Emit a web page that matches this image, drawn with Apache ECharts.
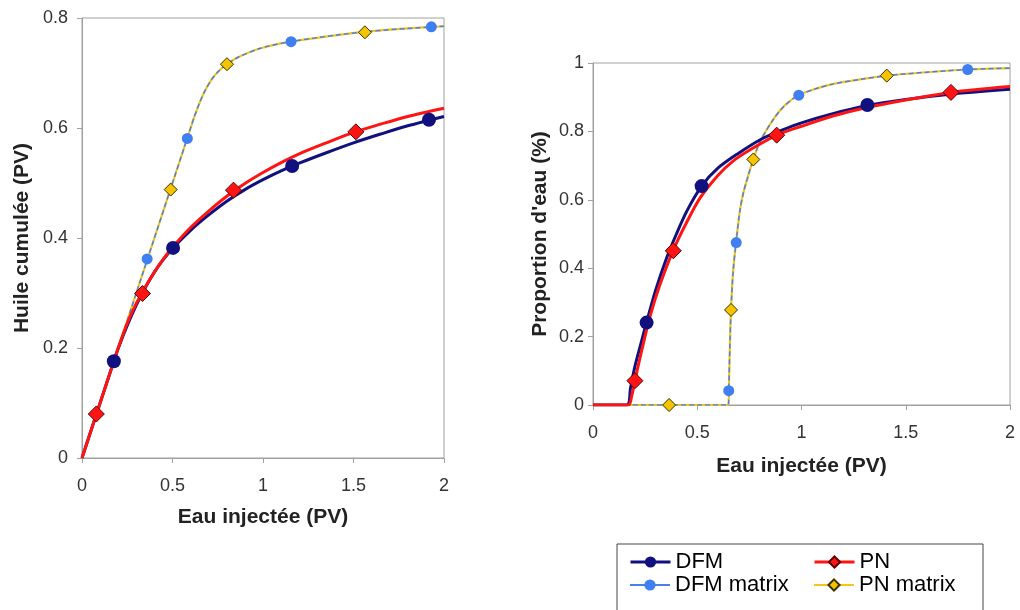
<!DOCTYPE html>
<html>
<head>
<meta charset="utf-8">
<script src="https://cdn.jsdelivr.net/npm/echarts@6/dist/echarts.min.js"></script>
<style>
html,body{margin:0;padding:0;background:#fff;}
#chart{width:1020px;height:610px;}
</style>
</head>
<body>
<div id="chart"></div>
<script>
// ---------- DATA ----------
const xTicks = [0, 0.5, 1, 1.5, 2];
const seriesNames = ['DFM', 'PN', 'DFM matrix', 'PN matrix'];

// Left chart: Huile cumulée (PV) vs Eau injectée (PV)
const L_DFM_curveX = [0, 0.17, 0.2, 0.25, 0.3, 0.35, 0.4, 0.45, 0.5, 0.6, 0.7, 0.8, 0.9, 1.0, 1.1, 1.2, 1.35, 1.5, 1.65, 1.8, 2.0];
const L_DFM_curveY = [0, 0.17, 0.199, 0.241, 0.278, 0.31, 0.338, 0.361, 0.381, 0.414, 0.442, 0.467, 0.488, 0.506, 0.522, 0.536, 0.555, 0.573, 0.589, 0.604, 0.621];
const L_DFM_markX = [0.176, 0.503, 1.161, 1.917];
const L_DFM_markY = [0.176, 0.382, 0.531, 0.615];

const L_PN_curveX = [0, 0.17, 0.2, 0.25, 0.3, 0.35, 0.4, 0.45, 0.5, 0.6, 0.7, 0.8, 0.9, 1.0, 1.1, 1.2, 1.35, 1.5, 1.65, 1.8, 2.0];
const L_PN_curveY = [0, 0.17, 0.2, 0.245, 0.281, 0.311, 0.338, 0.362, 0.383, 0.419, 0.449, 0.476, 0.499, 0.519, 0.537, 0.553, 0.573, 0.592, 0.607, 0.621, 0.636];
const L_PN_markX = [0.079, 0.334, 0.837, 1.513];
const L_PN_markY = [0.08, 0.299, 0.487, 0.593];

const L_DFMm_curveX = [0, 0.3, 0.6, 0.62, 0.65, 0.68, 0.72, 0.76, 0.801, 0.865, 0.987, 1.153, 1.409, 1.6, 1.8, 2.0];
const L_DFMm_curveY = [0, 0.3, 0.6, 0.62, 0.646, 0.668, 0.69, 0.705, 0.716, 0.729, 0.745, 0.757, 0.769, 0.776, 0.781, 0.785];
const L_DFMm_markX = [0.36, 0.582, 1.155, 1.93];
const L_DFMm_markY = [0.362, 0.581, 0.757, 0.784];

const L_PNm_curveX = [0, 0.3, 0.6, 0.62, 0.65, 0.68, 0.72, 0.76, 0.801, 0.865, 0.987, 1.153, 1.409, 1.6, 1.8, 2.0];
const L_PNm_curveY = [0, 0.3, 0.6, 0.62, 0.646, 0.668, 0.69, 0.705, 0.716, 0.729, 0.745, 0.757, 0.769, 0.776, 0.781, 0.785];
const L_PNm_markX = [0.49, 0.801, 1.563];
const L_PNm_markY = [0.488, 0.716, 0.774];

// Right chart: Proportion d'eau (%) vs Eau injectée (PV)
const R_DFM_curveX = [0, 0.162, 0.18, 0.2, 0.23, 0.257, 0.3, 0.35, 0.4, 0.45, 0.521, 0.6, 0.7, 0.8, 0.9, 1.0, 1.15, 1.313, 1.5, 1.7, 2.0];
const R_DFM_curveY = [0, 0, 0.05, 0.11, 0.18, 0.242, 0.335, 0.425, 0.5, 0.567, 0.64, 0.693, 0.737, 0.775, 0.802, 0.825, 0.852, 0.875, 0.893, 0.908, 0.923];
const R_DFM_markX = [0.257, 0.521, 1.316];
const R_DFM_markY = [0.241, 0.64, 0.877];

const R_PN_curveX = [0, 0.17, 0.185, 0.201, 0.23, 0.273, 0.32, 0.385, 0.45, 0.513, 0.6, 0.673, 0.75, 0.881, 1.0, 1.15, 1.313, 1.5, 1.717, 2.0];
const R_PN_curveY = [0, 0, 0.025, 0.071, 0.15, 0.258, 0.35, 0.453, 0.535, 0.605, 0.672, 0.714, 0.745, 0.789, 0.815, 0.845, 0.87, 0.892, 0.914, 0.931];
const R_PN_markX = [0.201, 0.385, 0.881, 1.717];
const R_PN_markY = [0.071, 0.451, 0.789, 0.914];

const R_DFMm_curveX = [0, 0.6, 0.649, 0.652, 0.656, 0.662, 0.672, 0.686, 0.705, 0.721, 0.745, 0.769, 0.801, 0.865, 0.92, 0.987, 1.07, 1.153, 1.28, 1.409, 1.6, 1.8, 2.0];
const R_DFMm_curveY = [0, 0, 0, 0.06, 0.16, 0.278, 0.39, 0.475, 0.57, 0.62, 0.672, 0.718, 0.77, 0.835, 0.876, 0.906, 0.925, 0.939, 0.952, 0.963, 0.973, 0.981, 0.985];
const R_DFMm_markX = [0.651, 0.687, 0.987, 1.797];
const R_DFMm_markY = [0.042, 0.475, 0.906, 0.981];

const R_PNm_curveX = [0, 0.6, 0.649, 0.652, 0.656, 0.662, 0.672, 0.686, 0.705, 0.721, 0.745, 0.769, 0.801, 0.865, 0.92, 0.987, 1.07, 1.153, 1.28, 1.409, 1.6, 1.8, 2.0];
const R_PNm_curveY = [0, 0, 0, 0.06, 0.16, 0.278, 0.39, 0.475, 0.57, 0.62, 0.672, 0.718, 0.77, 0.835, 0.876, 0.906, 0.925, 0.939, 0.952, 0.963, 0.973, 0.981, 0.985];
const R_PNm_markX = [0.365, 0.662, 0.769, 1.409];
const R_PNm_markY = [0, 0.278, 0.718, 0.963];

// ---------- BUILD ----------
function pts(xs, ys) { return xs.map((x, i) => [x, ys[i]]); }

const FONT = 'Liberation Sans, Arial, sans-serif';
const AX = '#a0a0a0';

const styles = {
  'DFM':        { line: '#10107e', width: 3, symbol: 'circle', size: 14, fill: '#10107e', border: '#10107e', bw: 0, type: 'solid', lw: 3 },
  'PN':         { line: '#ff1414', width: 3, symbol: 'diamond', size: 16, fill: '#ff1414', border: '#5a0000', bw: 1, type: 'solid', lw: 3 },
  'DFM matrix': { line: '#4a80e8', width: 1.5, symbol: 'circle', size: 11, fill: '#3f7ff2', border: '#3f7ff2', bw: 0, type: [5, 3], lw: 2 },
  'PN matrix':  { line: '#f5c518', width: 2.2, symbol: 'diamond', size: 13, fill: '#f5c400', border: '#3a3000', bw: 1, type: 'solid', lw: 2 }
};

function lineSeries(name, grid, data, z) {
  const s = styles[name];
  return {
    name: name, type: 'line', xAxisIndex: grid, yAxisIndex: grid,
    data: data, smooth: 0.3,
    symbol: s.symbol, symbolSize: s.size, showSymbol: false,
    lineStyle: { color: s.line, width: s.width, type: s.type },
    itemStyle: { color: s.fill, borderColor: s.border, borderWidth: s.bw },
    emphasis: { disabled: true }, z: z, animation: false
  };
}
function markSeries(name, grid, data, z) {
  const s = styles[name];
  return {
    name: name, type: 'scatter', xAxisIndex: grid, yAxisIndex: grid,
    data: data, symbol: s.symbol, symbolSize: s.size,
    itemStyle: { color: s.fill, borderColor: s.border, borderWidth: s.bw, opacity: 1 },
    emphasis: { disabled: true }, z: z, animation: false
  };
}

function xAxis(grid, gap) {
  return {
    gridIndex: grid, type: 'value', min: xTicks[0], max: xTicks[xTicks.length - 1], interval: 0.5,
    axisLine: { lineStyle: { color: AX, width: 1 } },
    axisTick: { show: true, length: 5, lineStyle: { color: AX } },
    axisLabel: { fontSize: 18, color: '#333', margin: 19, fontFamily: FONT },
    splitLine: { show: false },
    name: 'Eau injectée (PV)', nameLocation: 'middle', nameGap: gap,
    nameTextStyle: { fontSize: 21, fontWeight: 'bold', color: '#222', fontFamily: FONT }
  };
}
function yAxis(grid, max, name, gap, margin) {
  return {
    gridIndex: grid, type: 'value', min: 0, max: max, interval: 0.2,
    axisLine: { lineStyle: { color: AX, width: 1 } },
    axisTick: { show: true, length: 5, lineStyle: { color: AX } },
    axisLabel: { fontSize: 18, color: '#333', margin: margin, fontFamily: FONT },
    splitLine: { show: false },
    name: name, nameLocation: 'middle', nameGap: gap, nameRotate: 90,
    nameTextStyle: { fontSize: 21, fontWeight: 'bold', color: '#222', fontFamily: FONT }
  };
}

function legend(name, left, top) {
  const s = styles[name];
  return {
    data: [{ name: name, lineStyle: { type: 'solid', width: s.lw, color: s.line } }],
    left: left, top: top, padding: 0, itemGap: 0,
    itemWidth: 40, itemHeight: 14, selectedMode: false,
    textStyle: { fontSize: 22, color: '#000', fontFamily: FONT, lineHeight: 22 }
  };
}

const order = ['PN matrix', 'DFM matrix', 'DFM', 'PN'];
const leftCurves = {
  'DFM': pts(L_DFM_curveX, L_DFM_curveY), 'PN': pts(L_PN_curveX, L_PN_curveY),
  'DFM matrix': pts(L_DFMm_curveX, L_DFMm_curveY), 'PN matrix': pts(L_PNm_curveX, L_PNm_curveY)
};
const leftMarks = {
  'DFM': pts(L_DFM_markX, L_DFM_markY), 'PN': pts(L_PN_markX, L_PN_markY),
  'DFM matrix': pts(L_DFMm_markX, L_DFMm_markY), 'PN matrix': pts(L_PNm_markX, L_PNm_markY)
};
const rightCurves = {
  'DFM': pts(R_DFM_curveX, R_DFM_curveY), 'PN': pts(R_PN_curveX, R_PN_curveY),
  'DFM matrix': pts(R_DFMm_curveX, R_DFMm_curveY), 'PN matrix': pts(R_PNm_curveX, R_PNm_curveY)
};
const rightMarks = {
  'DFM': pts(R_DFM_markX, R_DFM_markY), 'PN': pts(R_PN_markX, R_PN_markY),
  'DFM matrix': pts(R_DFMm_markX, R_DFMm_markY), 'PN matrix': pts(R_PNm_markX, R_PNm_markY)
};

const series = [];
order.forEach((n, i) => {
  series.push(lineSeries(n, 0, leftCurves[n], 2 + i));
  series.push(lineSeries(n, 1, rightCurves[n], 2 + i));
});
order.forEach((n, i) => {
  series.push(markSeries(n, 0, leftMarks[n], 10 + i));
  series.push(markSeries(n, 1, rightMarks[n], 10 + i));
});

const option = {
  backgroundColor: '#fff',
  animation: false,
  grid: [
    { left: 82, top: 18, width: 362, height: 440, show: true, borderColor: AX, borderWidth: 1 },
    { left: 593, top: 63, width: 417, height: 342, show: true, borderColor: AX, borderWidth: 1 }
  ],
  xAxis: [xAxis(0, 49), xAxis(1, 51)],
  yAxis: [
    yAxis(0, 0.8, 'Huile cumulée (PV)', 49, 14),
    yAxis(1, 1, "Proportion d'eau (%)", 42, 9)
  ],
  legend: [
    legend('DFM', 629, 551),
    legend('PN', 813, 551),
    legend('DFM matrix', 629, 574),
    legend('PN matrix', 813, 574)
  ],
  graphic: [
    { type: 'rect', shape: { x: 617, y: 544, width: 366, height: 80 },
      style: { fill: 'none', stroke: '#444', lineWidth: 1 }, z: -1, silent: true }
  ],
  series: series
};

const chart = echarts.init(document.getElementById('chart'), null, { renderer: 'canvas' });
chart.setOption(option);
</script>
</body>
</html>
